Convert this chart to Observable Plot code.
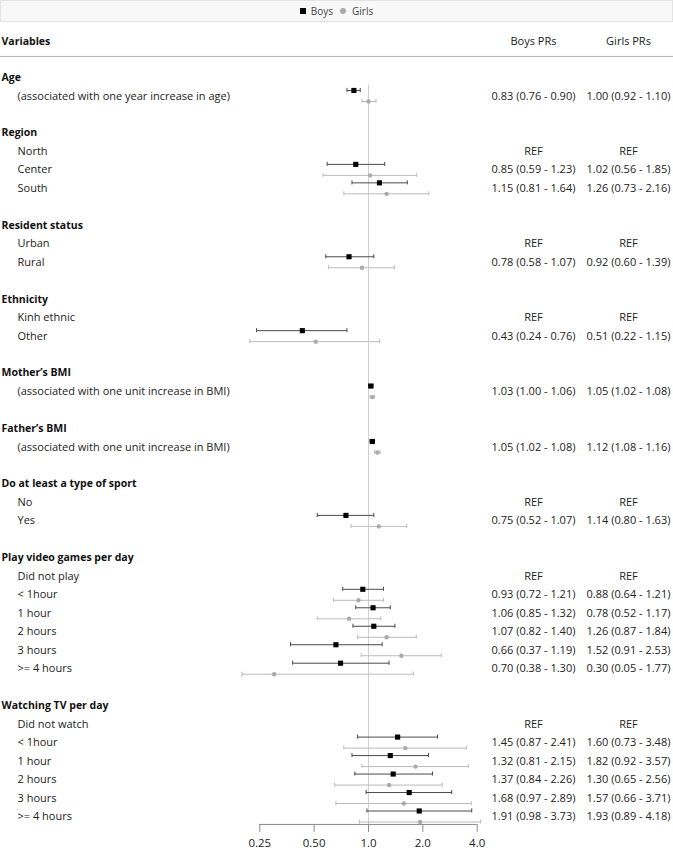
<!DOCTYPE html>
<html>
<head>
<meta charset="utf-8">
<script src="https://cdn.jsdelivr.net/npm/d3@7"></script>
<script src="https://cdn.jsdelivr.net/npm/@observablehq/plot@0.6"></script>
<style>
  body { margin: 0; background: #fff; font-family: "Open Sans", sans-serif; }
  #legend { width: 673px; height: 22px; box-sizing: border-box; border: 1px solid #e3e3e3; background: #f8f8f8;
    display: flex; justify-content: center; align-items: center; font-size: 10px; color: #444; margin-bottom: 3px; }
  #legend .sq { width: 6px; height: 6px; background: #000; margin-right: 5px; }
  #legend .ci { width: 6px; height: 6px; border-radius: 50%; background: #aaa; margin: 0 6px 0 7px; }
</style>
</head>
<body>
<div id="legend"><span class="sq"></span><span>Boys</span><span class="ci"></span><span>Girls</span></div>
<div id="chart"></div>
<script>
// ---- data ----
const labels = [
  "Age", "(associated with one year increase in age)", "",
  "Region", "North", "Center", "South", "",
  "Resident status", "Urban", "Rural", "",
  "Ethnicity", "Kinh ethnic", "Other", "",
  "Mother’s BMI", "(associated with one unit increase in BMI)", "",
  "Father’s BMI", "(associated with one unit increase in BMI)", "",
  "Do at least a type of sport", "No", "Yes", "",
  "Play video games per day", "Did not play", "< 1hour", "1 hour", "2 hours", "3 hours", ">= 4 hours", "",
  "Watching TV per day", "Did not watch", "< 1hour", "1 hour", "2 hours", "3 hours", ">= 4 hours"
];
// h = heading, r = reference category, i = estimated row, "" = spacer
const kinds = [
  "h","i","",
  "h","r","i","i","",
  "h","r","i","",
  "h","r","i","",
  "h","i","",
  "h","i","",
  "h","r","i","",
  "h","r","i","i","i","i","i","",
  "h","r","i","i","i","i","i"
];
const boysEst  = [0.83, 0.85,1.15, 0.78, 0.43, 1.03, 1.05, 0.75, 0.93,1.06,1.07,0.66,0.70, 1.45,1.32,1.37,1.68,1.91];
const boysLo   = [0.76, 0.59,0.81, 0.58, 0.24, 1.00, 1.02, 0.52, 0.72,0.85,0.82,0.37,0.38, 0.87,0.81,0.84,0.97,0.98];
const boysHi   = [0.90, 1.23,1.64, 1.07, 0.76, 1.06, 1.08, 1.07, 1.21,1.32,1.40,1.19,1.30, 2.41,2.15,2.26,2.89,3.73];
const girlsEst = [1.00, 1.02,1.26, 0.92, 0.51, 1.05, 1.12, 1.14, 0.88,0.78,1.26,1.52,0.30, 1.60,1.82,1.30,1.57,1.93];
const girlsLo  = [0.92, 0.56,0.73, 0.60, 0.22, 1.02, 1.08, 0.80, 0.64,0.52,0.87,0.91,0.05, 0.73,0.92,0.65,0.66,0.89];
const girlsHi  = [1.10, 1.85,2.16, 1.39, 1.15, 1.08, 1.16, 1.63, 1.21,1.17,1.84,2.53,1.77, 3.48,3.57,2.56,3.71,4.18];
const xTicks = [0.25, 0.5, 1, 2, 4];
const xTickLabels = ["0.25", "0.50", "1.0", "2.0", "4.0"];
const columnHeaders = ["Variables", "Boys PRs", "Girls PRs"];

// ---- layout constants (in row units / px) ----
const clampMin = 0.2;          // bars below this are cut with an arrow
const headerRow = -1.95, headerRuleRow = -1.14;
const lastRow = labels.length - 1;
const axisRow = lastRow + 0.43, tickEndRow = lastRow + 0.86, tickLabelRow = lastRow + 1.46;
const capHalf = 0.11;
const boysDy = -5.5, girlsDy = 5.5;
const boysCol = 533, girlsCol = 628;

// ---- build tables ----
const fmt = v => v.toFixed(2);
const rows = [];
const series = [];
let k = 0;
labels.forEach((label, i) => {
  const r = {row: i, label, kind: kinds[i], boysText: "", girlsText: ""};
  if (kinds[i] === "r") { r.boysText = "REF"; r.girlsText = "REF"; }
  if (kinds[i] === "i") {
    r.boysText = `${fmt(boysEst[k])} (${fmt(boysLo[k])} - ${fmt(boysHi[k])})`;
    r.girlsText = `${fmt(girlsEst[k])} (${fmt(girlsLo[k])} - ${fmt(girlsHi[k])})`;
    series.push({sex: "Boys", row: i, est: boysEst[k], lo: boysLo[k], hi: boysHi[k]});
    series.push({sex: "Girls", row: i, est: girlsEst[k], lo: girlsLo[k], hi: girlsHi[k]});
    k++;
  }
  rows.push(r);
});
const boys = series.filter(d => d.sex === "Boys");
const girls = series.filter(d => d.sex === "Girls");

function errMarks(data, dy, stroke) {
  const inRange = data.filter(d => d.lo >= clampMin);
  const clipped = data.filter(d => d.lo < clampMin);
  return [
    Plot.link(inRange, {x1: "lo", x2: "hi", y1: "row", y2: "row", dy, stroke, strokeWidth: 1}),
    Plot.link(clipped, {x1: () => clampMin, x2: "hi", y1: "row", y2: "row", dy, stroke, strokeWidth: 1, markerStart: "arrow"}),
    Plot.ruleX(inRange, {x: "lo", y1: d => d.row - capHalf, y2: d => d.row + capHalf, dy, stroke, strokeWidth: 1}),
    Plot.ruleX(data, {x: "hi", y1: d => d.row - capHalf, y2: d => d.row + capHalf, dy, stroke, strokeWidth: 1})
  ];
}

const chart = Plot.plot({
  width: 673,
  height: 825,
  marginLeft: 0, marginRight: 0, marginTop: 0, marginBottom: 0,
  x: {type: "log", base: 2, domain: [0.25, 4], range: [259.3, 476.7], axis: null},
  y: {domain: [0, lastRow], range: [52, 791], axis: null},
  style: {fontFamily: "'Open Sans', sans-serif", fontSize: "11px", color: "#222", background: "#fff", overflow: "visible"},
  marks: [
    // header
    Plot.ruleY([headerRuleRow], {stroke: "#b5b5b5", strokeWidth: 1}),
    Plot.text([columnHeaders[0]], {text: d => d, y: () => headerRow, frameAnchor: "left", textAnchor: "start", dx: 1, fontWeight: "bold", fontSize: 10.5, fill: "#111"}),
    Plot.text([columnHeaders[1]], {text: d => d, y: () => headerRow, frameAnchor: "left", textAnchor: "middle", dx: boysCol, fill: "#222"}),
    Plot.text([columnHeaders[2]], {text: d => d, y: () => headerRow, frameAnchor: "left", textAnchor: "middle", dx: girlsCol, fill: "#222"}),
    // reference line
    Plot.ruleX([1], {y1: () => 0.4, y2: () => axisRow, stroke: "#cfcfcf", strokeWidth: 1}),
    // row labels
    Plot.text(rows.filter(d => d.kind === "h"), {text: "label", y: "row", frameAnchor: "left", textAnchor: "start", dx: 1, fontWeight: "bold", fontSize: 10.5, fill: "#111"}),
    Plot.text(rows.filter(d => d.kind === "i" || d.kind === "r"), {text: "label", y: "row", frameAnchor: "left", textAnchor: "start", dx: 17, fill: "#222"}),
    // value columns
    Plot.text(rows, {text: "boysText", y: "row", frameAnchor: "left", textAnchor: "middle", dx: boysCol, fill: "#222"}),
    Plot.text(rows, {text: "girlsText", y: "row", frameAnchor: "left", textAnchor: "middle", dx: girlsCol, fill: "#222"}),
    // error bars
    ...errMarks(girls, girlsDy, "#bbbbbb"),
    ...errMarks(boys, boysDy, "#4a4a4a"),
    // points
    Plot.dot(girls, {x: "est", y: "row", dy: girlsDy, r: 2.2, fill: "#aaaaaa", stroke: "none"}),
    Plot.dot(boys, {x: "est", y: "row", dy: boysDy, r: 2.9, symbol: "square", fill: "#000", stroke: "none"}),
    // custom x axis
    Plot.ruleY([axisRow], {x1: () => xTicks[0], x2: () => xTicks[xTicks.length - 1], stroke: "#8a8a8a"}),
    Plot.ruleX(xTicks, {x: d => d, y1: () => axisRow, y2: () => tickEndRow, stroke: "#8a8a8a"}),
    Plot.text(xTicks, {x: d => d, y: () => tickLabelRow, text: (d, i) => xTickLabels[i], fontSize: 11.5, fill: "#222"})
  ]
});
document.getElementById("chart").appendChild(chart);
</script>
</body>
</html>
